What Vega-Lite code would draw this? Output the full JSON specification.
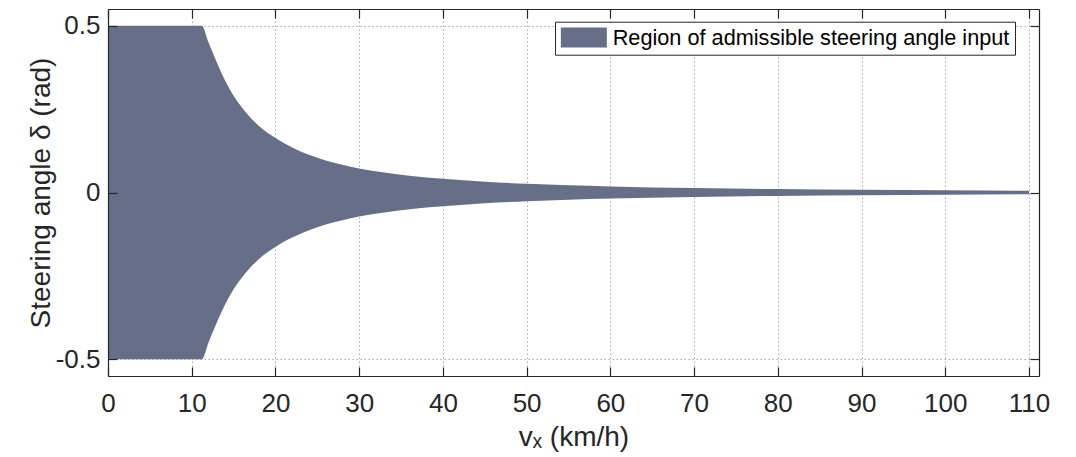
{
  "$schema": "https://vega.github.io/schema/vega-lite/v6.json",
  "autosize": "none",
  "width": 931,
  "height": 367,
  "padding": {"left": 108, "top": 9, "right": 37, "bottom": 81},
  "background": "white",
  "config": {
    "view": {"stroke": null},
    "font": "Liberation Sans",
    "axis": {
      "labelFont": "Liberation Sans",
      "titleFont": "Liberation Sans",
      "labelColor": "#262626",
      "titleColor": "#262626",
      "titleFontWeight": "normal",
      "domainColor": "#262626",
      "tickColor": "#262626",
      "domainWidth": 1.2,
      "tickWidth": 1.2
    }
  },
  "data": {
    "values": [
      {"v": 0, "upper": 0.5, "lower": -0.5},
      {"v": 11.2, "upper": 0.5, "lower": -0.5},
      {"v": 12, "upper": 0.45, "lower": -0.45},
      {"v": 13, "upper": 0.39, "lower": -0.39},
      {"v": 14, "upper": 0.335, "lower": -0.335},
      {"v": 15, "upper": 0.29, "lower": -0.29},
      {"v": 16, "upper": 0.255, "lower": -0.255},
      {"v": 17, "upper": 0.225, "lower": -0.225},
      {"v": 18, "upper": 0.2, "lower": -0.2},
      {"v": 20, "upper": 0.163, "lower": -0.163},
      {"v": 22, "upper": 0.135, "lower": -0.135},
      {"v": 24, "upper": 0.113, "lower": -0.113},
      {"v": 26, "upper": 0.096, "lower": -0.096},
      {"v": 28, "upper": 0.083, "lower": -0.083},
      {"v": 30, "upper": 0.072, "lower": -0.072},
      {"v": 33, "upper": 0.06, "lower": -0.06},
      {"v": 36, "upper": 0.05, "lower": -0.05},
      {"v": 40, "upper": 0.041, "lower": -0.041},
      {"v": 45, "upper": 0.032, "lower": -0.032},
      {"v": 50, "upper": 0.026, "lower": -0.026},
      {"v": 55, "upper": 0.0215, "lower": -0.0215},
      {"v": 60, "upper": 0.018, "lower": -0.018},
      {"v": 70, "upper": 0.0133, "lower": -0.0133},
      {"v": 80, "upper": 0.0102, "lower": -0.0102},
      {"v": 90, "upper": 0.008, "lower": -0.008},
      {"v": 100, "upper": 0.0065, "lower": -0.0065},
      {"v": 110, "upper": 0.0054, "lower": -0.0054}
    ]
  },
  "resolve": {"axis": {"x": "independent", "y": "independent"}},
  "layer": [
    {
      "mark": {"type": "area", "opacity": 0},
      "encoding": {
        "x": {"field": "v", "type": "quantitative", "scale": {"domain": [0, 111.2], "nice": false, "zero": false},
          "axis": {"orient": "bottom", "grid": true, "gridColor": "#a8a8a8", "gridDash": [1.5, 2.5], "gridWidth": 1, "ticks": false, "labels": false, "domain": false, "title": null, "values": [0,10,20,30,40,50,60,70,80,90,100,110], "zindex": 0, "minExtent": 0, "maxExtent": 0}},
        "y": {"field": "upper", "type": "quantitative", "scale": {"domain": [-0.55, 0.55], "nice": false, "zero": false},
          "axis": {"orient": "left", "grid": true, "gridColor": "#a8a8a8", "gridDash": [1.5, 2.5], "gridWidth": 1, "ticks": false, "labels": false, "domain": false, "title": null, "values": [-0.5, 0, 0.5], "zindex": 0, "minExtent": 0, "maxExtent": 0}},
        "y2": {"field": "lower"}
      }
    },
    {
      "mark": {"type": "area", "interpolate": "monotone"},
      "encoding": {
        "x": {"field": "v", "type": "quantitative",
          "axis": {"orient": "bottom", "grid": false, "title": "vₓ (km/h)", "titleFontSize": 28, "titlePadding": 7, "labelFontSize": 26, "labelPadding": 23, "tickSize": -9, "values": [0,10,20,30,40,50,60,70,80,90,100,110], "labelFlush": false, "labelOverlap": false, "zindex": 1}},
        "y": {"field": "upper", "type": "quantitative",
          "axis": {"orient": "left", "grid": false, "title": "Steering angle δ (rad)", "titleFontSize": 28, "titlePadding": 0, "labelFontSize": 26, "labelPadding": 17, "tickSize": -9, "values": [-0.5, 0, 0.5], "labelFlush": false, "labelOverlap": false, "labelExpr": "datum.value == 0 ? '0' : (datum.value < 0 ? '-' + format(-datum.value, '.1f') : format(datum.value, '.1f'))", "zindex": 1}},
        "y2": {"field": "lower"},
        "fill": {"datum": "Region of admissible steering angle input", "type": "nominal",
          "scale": {"range": ["#676e88"]},
          "legend": {"title": null, "orient": "none", "legendX": 447, "legendY": 12.7, "labelFont": "Liberation Sans", "labelFontSize": 21.7, "labelColor": "#000000", "labelOffset": 31, "symbolType": "M-1,-1H3.6V1H-1Z", "symbolSize": 400, "symbolStrokeWidth": 0, "symbolOpacity": 1, "strokeColor": "#262626", "fillColor": "white", "padding": 5, "labelLimit": 600}}
      }
    },
    {
      "mark": {"type": "area", "opacity": 0},
      "encoding": {
        "x": {"field": "v", "type": "quantitative",
          "axis": {"orient": "top", "grid": false, "title": null, "labels": false, "tickSize": -9, "values": [0,10,20,30,40,50,60,70,80,90,100,110], "zindex": 1}},
        "y": {"field": "upper", "type": "quantitative",
          "axis": {"orient": "right", "grid": false, "title": null, "labels": false, "tickSize": -9, "values": [-0.5, 0, 0.5], "zindex": 1}},
        "y2": {"field": "lower"}
      }
    }
  ]
}
